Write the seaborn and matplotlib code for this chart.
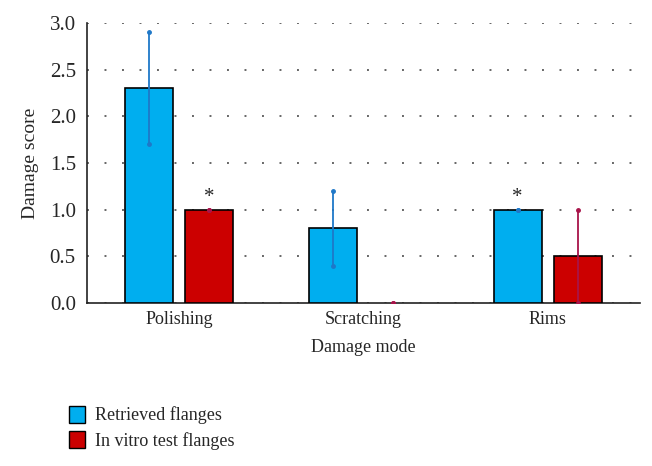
import numpy as np
import pandas as pd
import matplotlib
matplotlib.use("Agg")
import matplotlib.pyplot as plt
import seaborn as sns

modes = ["Polishing", "Scratching", "Rims"]
groups = ["Retrieved flanges", "In vitro test flanges"]
retrieved_mean = [2.3, 0.8, 1.0]
retrieved_err = [0.6, 0.4, 0.0]
invitro_mean = [1.0, 0.0, 0.5]
invitro_err = [0.0, 0.0, 0.5]
stars = [("In vitro test flanges", "Polishing"), ("Retrieved flanges", "Rims")]

df = pd.DataFrame({
    "mode": modes * 2,
    "group": [groups[0]] * 3 + [groups[1]] * 3,
    "score": retrieved_mean + invitro_mean,
    "err": retrieved_err + invitro_err,
})

bar_colors = {"Retrieved flanges": "#00aeef", "In vitro test flanges": "#cc0000"}
err_colors = {"Retrieved flanges": "#1f78c8", "In vitro test flanges": "#a8144a"}

sns.set_style("white")
plt.rcParams["font.family"] = ["Liberation Serif", "DejaVu Serif"]

fig = plt.figure(figsize=(6.52, 4.66), dpi=100)
ax = fig.add_axes([0.1334, 0.35, 0.848, 0.6006])

sns.barplot(data=df, x="mode", y="score", hue="group", order=modes, hue_order=groups,
            palette=bar_colors, saturation=1, width=0.652, gap=0.2, errorbar=None,
            edgecolor="black", linewidth=1.2, ax=ax, legend=False, zorder=3)
# empty bars show no outline
for p in ax.patches:
    if p.get_height() == 0:
        p.set_linewidth(0)

# error bars and significance marks
offsets = {groups[0]: -0.163, groups[1]: 0.163}
for _, row in df.iterrows():
    x = modes.index(row["mode"]) + offsets[row["group"]]
    c = err_colors[row["group"]]
    ax.errorbar(x, row["score"], yerr=row["err"], fmt="none", ecolor=c, elinewidth=1.3,
                capsize=0, zorder=4)
    ax.plot([x, x], [row["score"] - row["err"], row["score"] + row["err"]], ls="none",
            marker="o", ms=2.5, color=c, zorder=5)
for g, m in stars:
    x = modes.index(m) + offsets[g]
    y = df.loc[(df["group"] == g) & (df["mode"] == m), "score"].iloc[0]
    ax.text(x, y + 0.03, "*", ha="center", va="bottom", fontsize=15)

ax.set_xlim(-0.5, 2.5)
ax.set_ylim(0, 3.0)
ax.set_yticks(np.arange(0, 3.01, 0.5))
ax.set_yticklabels([f"{v:.1f}" for v in np.arange(0, 3.01, 0.5)])
ax.yaxis.grid(True, linestyle=(0, (1, 8)), color="#666666", linewidth=1.4, zorder=0)
ax.xaxis.grid(False)
ax.set_axisbelow(True)
for s in ["top", "right"]:
    ax.spines[s].set_visible(False)
for s in ["left", "bottom"]:
    ax.spines[s].set_color("#222222")
    ax.spines[s].set_linewidth(1.2)
ax.tick_params(axis="both", length=0, pad=6)
ax.tick_params(axis="x", labelsize=13)
ax.tick_params(axis="y", labelsize=15, pad=8)
ax.set_xlabel("Damage mode", fontsize=13, labelpad=8)
ax.set_ylabel("Damage score", fontsize=14, labelpad=8)

handles = [plt.Rectangle((0, 0), 1, 1, facecolor=bar_colors[g], edgecolor="black", linewidth=1.0)
           for g in groups]
fig.legend(handles, groups, loc="upper left", bbox_to_anchor=(0.095, 0.145), frameon=False,
           fontsize=13, handlelength=0.9, handleheight=1.1, handletextpad=0.55, labelspacing=0.35,
           borderaxespad=0)

fig.savefig("out.png", dpi=100)
